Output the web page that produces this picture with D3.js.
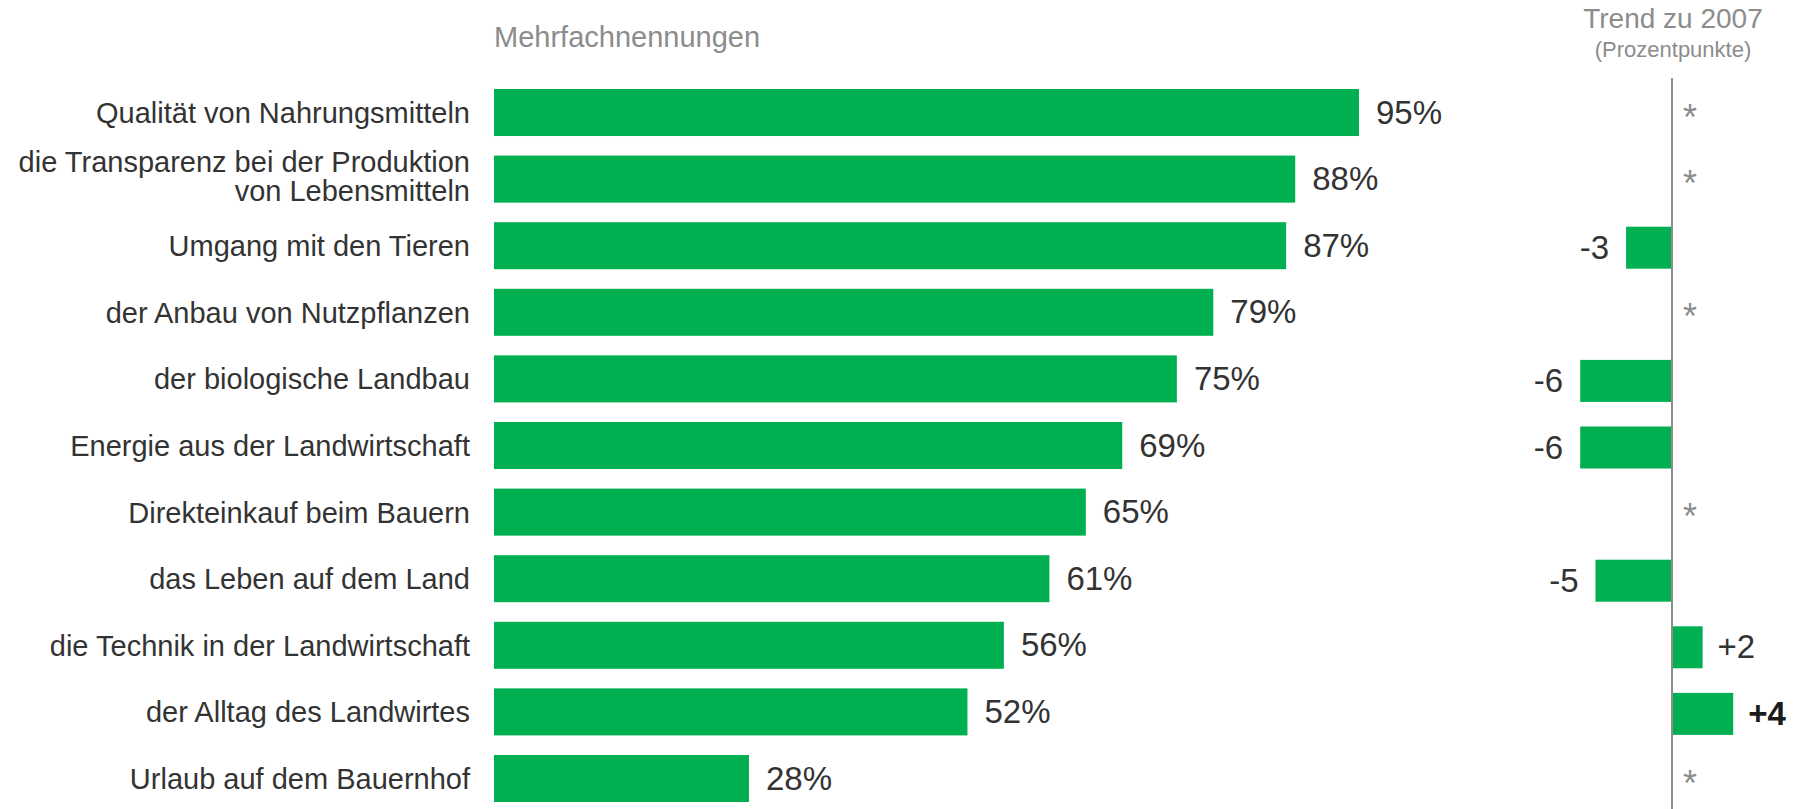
<!DOCTYPE html>
<html>
<head>
<meta charset="utf-8">
<script src="https://cdn.jsdelivr.net/npm/d3@7.9.0/dist/d3.min.js"></script>
<style>
  body { margin: 0; background: #fff; }
  svg { display: block; font-family: "Liberation Sans", Arial, sans-serif; }
</style>
</head>
<body>
<svg id="chart" width="1795" height="809"></svg>
<script>
// categories (two-line labels split with "|")
const categories = [
  "Qualität von Nahrungsmitteln",
  "die Transparenz bei der Produktion|von Lebensmitteln",
  "Umgang mit den Tieren",
  "der Anbau von Nutzpflanzen",
  "der biologische Landbau",
  "Energie aus der Landwirtschaft",
  "Direkteinkauf beim Bauern",
  "das Leben auf dem Land",
  "die Technik in der Landwirtschaft",
  "der Alltag des Landwirtes",
  "Urlaub auf dem Bauernhof"
];
// Mehrfachnennungen in %
const values = [95, 88, 87, 79, 75, 69, 65, 61, 56, 52, 28];
// Trend zu 2007 in Prozentpunkten (null = *)
const trend = [null, null, -3, null, -6, -6, null, -5, 2, 4, null];

const green = "#00b050";
const svg = d3.select("#chart");

const y = d3.scaleBand()
  .domain(categories)
  .range([79.2, 79.2 + 66.6 * categories.length])
  .paddingInner(0.294)
  .paddingOuter(0.147);

const x = d3.scaleLinear().domain([0, 100]).range([494, 1404.5]);
const xt = d3.scaleLinear().domain([-6, 4]).range([1580.2, 1733.2]);

const mid = d => y(d) + y.bandwidth() / 2;

// headers
svg.append("text")
  .attr("x", 494).attr("y", 47)
  .attr("font-size", 29).attr("fill", "#8c8c8c")
  .text("Mehrfachnennungen");

svg.append("text")
  .attr("x", 1673).attr("y", 28)
  .attr("text-anchor", "middle")
  .attr("font-size", 28).attr("fill", "#8c8c8c")
  .text("Trend zu 2007");

svg.append("text")
  .attr("x", 1673).attr("y", 57)
  .attr("text-anchor", "middle")
  .attr("font-size", 22).attr("fill", "#8c8c8c")
  .text("(Prozentpunkte)");

// category labels, one text per line
const labelG = svg.append("g");
categories.forEach(d => {
  const lines = d.split("|");
  const base = lines.length === 1 ? mid(d) + 10.5 : mid(d) - 7.5;
  lines.forEach((line, i) => {
    labelG.append("text")
      .attr("x", 470)
      .attr("y", base + i * 29)
      .attr("text-anchor", "end")
      .attr("font-size", 29)
      .attr("fill", "#333")
      .text(line);
  });
});

// main bars
svg.append("g")
  .selectAll("rect")
  .data(values)
  .join("rect")
  .attr("x", x(0))
  .attr("y", (d, i) => y(categories[i]))
  .attr("width", d => x(d) - x(0))
  .attr("height", y.bandwidth())
  .attr("fill", green);

svg.append("g")
  .selectAll("text")
  .data(values)
  .join("text")
  .attr("x", d => x(d) + 17)
  .attr("y", (d, i) => mid(categories[i]) + 11)
  .attr("font-size", 33)
  .attr("fill", "#333")
  .text(d => d + "%");

// trend bars
const trendRows = trend.map((v, i) => ({ v, cat: categories[i] }));
const trendMax = d3.max(trend);

svg.append("g")
  .selectAll("rect")
  .data(trendRows.filter(d => d.v !== null))
  .join("rect")
  .attr("x", d => Math.min(xt(0), xt(d.v)))
  .attr("y", d => mid(d.cat) + 2 - 21)
  .attr("width", d => Math.abs(xt(d.v) - xt(0)))
  .attr("height", 42)
  .attr("fill", green);

svg.append("g")
  .selectAll("text")
  .data(trendRows.filter(d => d.v !== null))
  .join("text")
  .attr("x", d => d.v < 0 ? xt(d.v) - 17 : xt(d.v) + 15)
  .attr("y", d => mid(d.cat) + 13)
  .attr("text-anchor", d => d.v < 0 ? "end" : "start")
  .attr("font-size", 33)
  .attr("font-weight", d => d.v === trendMax ? "bold" : "normal")
  .attr("fill", d => d.v === trendMax ? "#1a1a1a" : "#333")
  .text(d => (d.v > 0 ? "+" : "") + d.v);

svg.append("g")
  .selectAll("text")
  .data(trendRows.filter(d => d.v === null))
  .join("text")
  .attr("x", 1690)
  .attr("y", d => mid(d.cat) + 17)
  .attr("text-anchor", "middle")
  .attr("font-size", 36)
  .attr("fill", "#8c8c8c")
  .text("*");

// zero line of trend
svg.append("line")
  .attr("x1", xt(0)).attr("x2", xt(0))
  .attr("y1", 78).attr("y2", 809)
  .attr("stroke", "#8c8c8c")
  .attr("stroke-width", 2);
</script>
</body>
</html>
